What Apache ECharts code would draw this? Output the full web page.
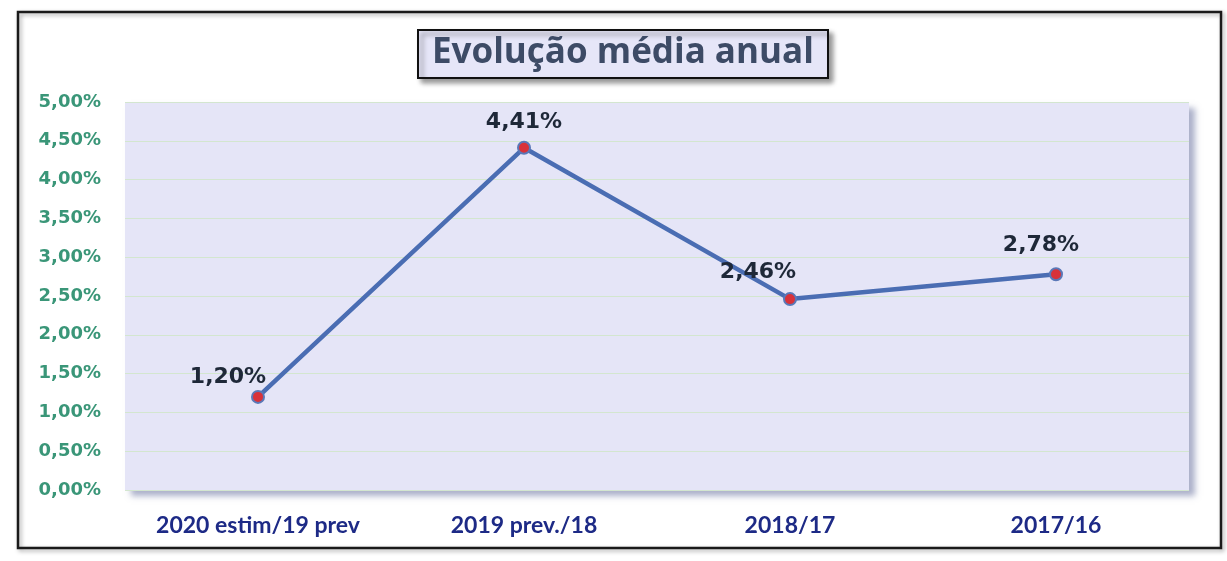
<!DOCTYPE html>
<html>
<head>
<meta charset="utf-8">
<script src="https://cdn.jsdelivr.net/npm/echarts@6/dist/echarts.min.js"></script>
<style>
  html, body { margin: 0; padding: 0; background: #fff; }
  #main { width: 1227px; height: 561px; }
</style>
</head>
<body>
<div id="main"></div>
<script>
// chart data
var categories = ['2020 estim/19 prev', '2019 prev./18', '2018/17', '2017/16'];
var values = [1.20, 4.41, 2.46, 2.78];
var yMin = 0, yMax = 5, yStep = 0.5;
// label nudges, like the manual placement in the original
var labelOffsets = [[-30, 10], [0, 4], [-32, 3], [-15, 1]];

function pct(v) {
  return v.toFixed(2).replace('.', ',') + '%';
}

var chart = echarts.init(document.getElementById('main'));

var points = values.map(function (v, i) {
  return { value: v, label: { offset: labelOffsets[i] } };
});

chart.setOption({
  backgroundColor: '#ffffff',
  graphic: [{
    type: 'rect',
    shape: { x: 18, y: 12, width: 1203, height: 536 },
    style: { fill: 'none', stroke: '#1a1a1a', lineWidth: 2.5,
      shadowBlur: 4, shadowColor: 'rgba(0,0,0,0.35)', shadowOffsetX: 2, shadowOffsetY: 2 },
    z: -1
  }],
  title: {
    text: 'Evolução média anual',
    left: 418,
    top: 30,
    padding: [6, 14, 7, 14],
    backgroundColor: '#e6e6f8',
    borderColor: '#111',
    borderWidth: 2,
    shadowBlur: 5,
    shadowColor: 'rgba(0,0,0,0.4)',
    shadowOffsetX: 4,
    shadowOffsetY: 4,
    textStyle: {
      fontFamily: 'Open Sans',
      fontWeight: 'bold',
      fontSize: 35,
      color: '#3d4b66'
    }
  },
  grid: {
    show: true,
    left: 125,
    right: 38,
    top: 102,
    bottom: 71,
    backgroundColor: '#e5e5f7',
    borderWidth: 0,
    shadowBlur: 6,
    shadowColor: 'rgba(90,100,150,0.5)',
    shadowOffsetX: 6,
    shadowOffsetY: 6
  },
  xAxis: {
    type: 'category',
    data: categories,
    boundaryGap: true,
    axisLine: { show: false },
    axisTick: { show: false },
    axisLabel: {
      interval: 0,
      hideOverlap: false,
      margin: 24,
      fontFamily: 'Lato',
      fontWeight: 'bold',
      fontSize: 23,
      color: '#1d2a86'
    }
  },
  yAxis: {
    type: 'value',
    min: yMin,
    max: yMax,
    interval: yStep,
    axisLine: { show: false },
    axisTick: { show: false },
    splitLine: { lineStyle: { color: '#d3e6cf', width: 1 } },
    axisLabel: {
      margin: 24,
      formatter: pct,
      fontFamily: 'DejaVu Sans',
      fontWeight: 'bold',
      fontSize: 18,
      color: '#3a9678'
    }
  },
  series: [{
    type: 'line',
    data: points,
    symbol: 'circle',
    symbolSize: 12,
    lineStyle: { color: '#4a6db3', width: 4.5 },
    itemStyle: { color: '#d8323a', borderColor: '#5a78b8', borderWidth: 2 },
    label: {
      show: true,
      position: 'top',
      distance: 12,
      formatter: function (p) { return pct(p.value); },
      fontFamily: 'DejaVu Sans',
      fontWeight: 'bold',
      fontSize: 22,
      color: '#1e2838'
    },
    z: 3
  }]
});
</script>
</body>
</html>
